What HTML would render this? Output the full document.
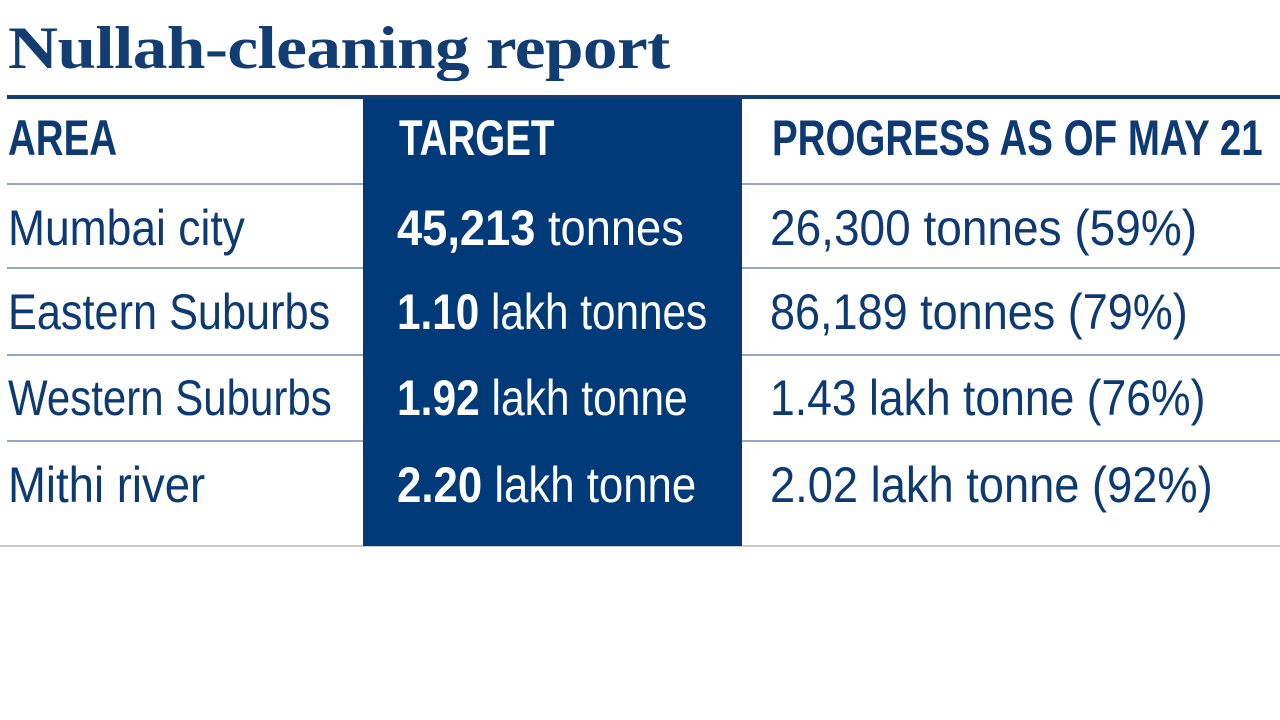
<!DOCTYPE html>
<html><head><meta charset="utf-8">
<style>
body{margin:0;width:1280px;height:720px;background:#fff;position:relative;overflow:hidden;font-family:"Liberation Sans",sans-serif;color:#0d3a72}
.a{position:absolute;white-space:nowrap;transform-origin:0 50%}
.t{font-family:"Liberation Serif",serif;font-weight:bold;font-size:60px;left:8px;top:14px;color:#123d72;letter-spacing:-0.5px;transform:scaleX(1.155)}
.rule{position:absolute;left:7px;right:0;height:2px;background:#93a8c6}
.h{font-weight:bold;font-size:50px;top:110px;line-height:56px;transform:scaleX(0.77)}
.c{font-size:50px;line-height:56px}
.w{color:#fff}
</style></head><body>
<div class="a t">Nullah-cleaning report</div>
<div class="rule" style="top:183px"></div>
<div class="rule" style="top:267px"></div>
<div class="rule" style="top:354px"></div>
<div class="rule" style="top:440px"></div>
<div class="a" style="left:0;right:0;top:545px;height:2px;background:#c8c8c8"></div>
<div class="a" style="left:363px;top:96px;width:379px;height:450px;background:#003a78"></div>
<div class="a" style="left:7px;right:0;top:95px;height:4px;background:#163d6f"></div>

<div class="a h" style="left:8px">AREA</div>
<div class="a h w" style="left:399px">TARGET</div>
<div class="a h" style="left:772px">PROGRESS AS OF MAY 21</div>

<div class="a c" style="left:8px;top:200px;transform:scaleX(0.888)">Mumbai city</div>
<div class="a c w" style="left:397px;top:200px;transform:scaleX(0.905)"><b>45,213</b> tonnes</div>
<div class="a c" style="left:770px;top:200px;transform:scaleX(0.92)">26,300 tonnes (59%)</div>

<div class="a c" style="left:8px;top:284px;transform:scaleX(0.865)">Eastern Suburbs</div>
<div class="a c w" style="left:397px;top:284px;transform:scaleX(0.845)"><b>1.10</b> lakh tonnes</div>
<div class="a c" style="left:770px;top:284px;transform:scaleX(0.9)">86,189 tonnes (79%)</div>

<div class="a c" style="left:8px;top:370px;transform:scaleX(0.84)">Western Suburbs</div>
<div class="a c w" style="left:397px;top:370px;transform:scaleX(0.85)"><b>1.92</b> lakh tonne</div>
<div class="a c" style="left:770px;top:370px;transform:scaleX(0.89)">1.43 lakh tonne (76%)</div>

<div class="a c" style="left:8px;top:457px;transform:scaleX(0.91)">Mithi river</div>
<div class="a c w" style="left:397px;top:457px;transform:scaleX(0.875)"><b>2.20</b> lakh tonne</div>
<div class="a c" style="left:770px;top:457px;transform:scaleX(0.905)">2.02 lakh tonne (92%)</div>
</body></html>
